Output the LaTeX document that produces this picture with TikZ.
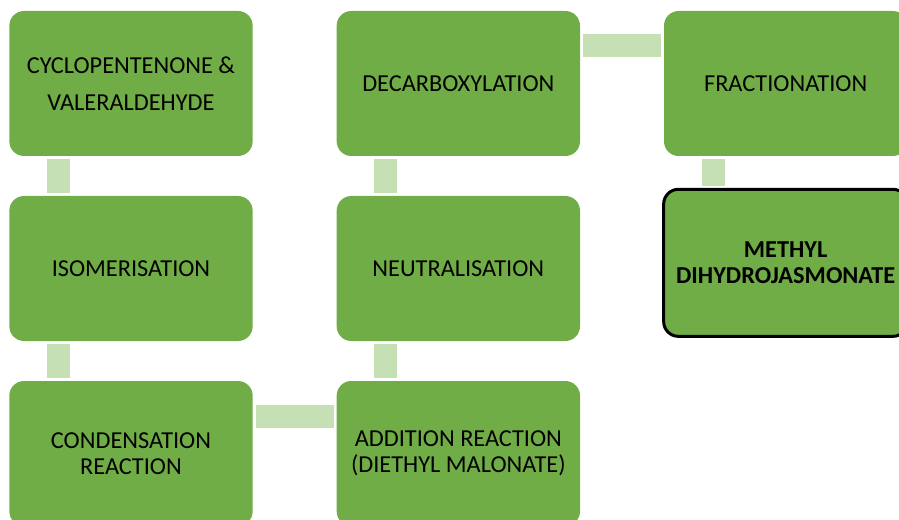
\documentclass[tikz,border=0pt]{standalone}
\usepackage{fontspec}
\setmainfont{Carlito}
\usetikzlibrary{positioning}
\definecolor{stagegreen}{HTML}{70AD47}
\definecolor{linkgreen}{HTML}{C5E0B4}
\tikzset{stage/.style={rectangle, rounded corners=11pt, fill=stagegreen,
    minimum width=182.5pt, minimum height=108.75pt, inner sep=0pt,
    outer sep=0pt, align=center, font=\fontsize{18.25}{19.5}\selectfont},
  product/.style={stage, draw=black, line width=2.25pt,
    minimum width=183pt, minimum height=110.25pt,
    font=\fontsize{18.25}{19.5}\selectfont\bfseries},
  link/.style={draw=linkgreen, line width=17.25pt,
    shorten <=2.25pt, shorten >=2.25pt},
  node distance=30pt and 63pt}

\begin{document}
\begin{tikzpicture}
  \useasboundingbox (0,0) rectangle (674.25pt,-390pt);
  \node[stage, anchor=north west] (cyc) at (7pt,-8.25pt)
    {CYCLOPENTENONE \&\\[8.25pt]VALERALDEHYDE};
  \node[stage, below=of cyc] (iso) {ISOMERISATION};
  \node[stage, below=of iso] (cond) {CONDENSATION\\REACTION};
  \node[stage, right=of cond] (add) {ADDITION REACTION\\(DIETHYL MALONATE)};
  \node[stage, above=of add] (neut) {NEUTRALISATION};
  \node[stage, above=of neut] (decarb) {DECARBOXYLATION};
  \node[stage, right=of decarb] (frac) {FRACTIONATION};
  \node[product, below=25pt of frac] (mdj) {METHYL\\DIHYDROJASMONATE};
  % links
  \draw[link] ([xshift=36.75pt]cyc.south west) -- ([xshift=36.75pt]iso.north west);
  \draw[link] ([xshift=36.75pt]iso.south west) -- ([xshift=36.75pt]cond.north west);
  \draw[link] ([yshift=-26.25pt]cond.north east) -- ([yshift=-26.25pt]add.north west);
  \draw[link] ([xshift=36.75pt]neut.south west) -- ([xshift=36.75pt]add.north west);
  \draw[link] ([xshift=36.75pt]decarb.south west) -- ([xshift=36.75pt]neut.north west);
  \draw[link] ([yshift=-26.25pt]decarb.north east) -- ([yshift=-26.25pt]frac.north west);
  \draw[link] ([xshift=36.75pt]frac.south west) -- ([xshift=36.75pt]frac.south west |- mdj.north);
\end{tikzpicture}
\end{document}
